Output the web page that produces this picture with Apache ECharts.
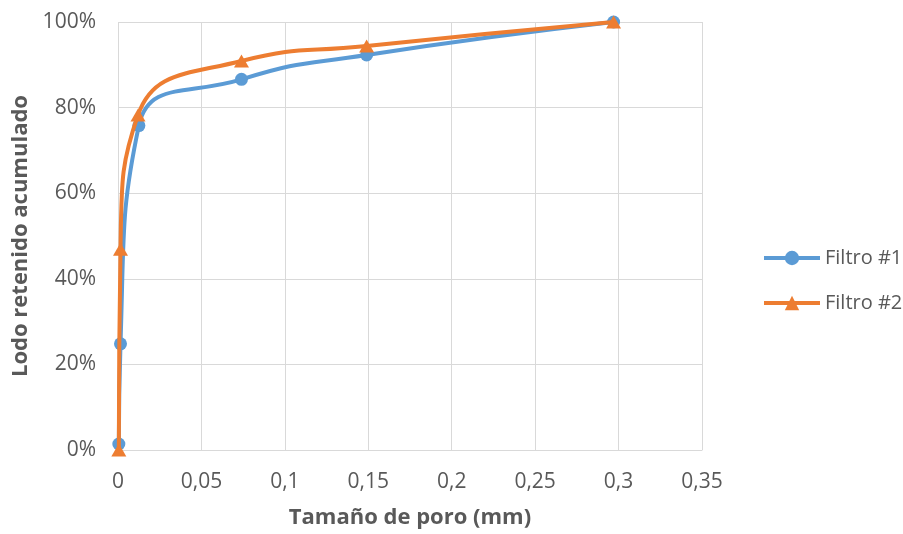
<!DOCTYPE html>
<html>
<head>
<meta charset="utf-8">
<script src="https://cdn.jsdelivr.net/npm/echarts@6/dist/echarts.min.js"></script>
<style>
  html, body { margin: 0; padding: 0; background: #ffffff; }
  #chart { width: 903px; height: 534px; }
</style>
</head>
<body>
<div id="chart"></div>
<script>
// Tamaño de poro (mm) de cada punto de la curva granulométrica
const poroFiltro1 = [0.0005, 0.0015, 0.0125, 0.074, 0.149, 0.297];
const poroFiltro2 = [0.0005, 0.0015, 0.012, 0.074, 0.149, 0.297];
// Lodo retenido acumulado (%)
const retenidoFiltro1 = [1.4, 24.8, 75.8, 86.6, 92.3, 100];
const retenidoFiltro2 = [0, 46.9, 78.3, 90.9, 94.4, 100];
const seriesNames = ['Filtro #1', 'Filtro #2'];

const FONT = '"Open Sans", "Noto Sans", sans-serif';
const TEXT = '#595959';
const GRID = '#D9D9D9';

const pairs = (xs, ys) => xs.map((x, i) => [x, ys[i]]);

const chart = echarts.init(document.getElementById('chart'), null, { renderer: 'canvas' });
chart.setOption({
  animation: false,
  backgroundColor: '#ffffff',
  textStyle: { fontFamily: FONT },
  grid: { left: 118, right: 201, top: 22, bottom: 83, containLabel: false },
  legend: {
    orient: 'vertical',
    left: 762,
    top: 248,
    padding: 0,
    itemWidth: 56,
    itemHeight: 18,
    itemGap: 25,
    lineStyle: { width: 4 },
    textStyle: { fontFamily: FONT, fontSize: 20, color: TEXT },
    data: seriesNames
  },
  xAxis: {
    type: 'value',
    min: 0,
    max: 0.35,
    interval: 0.05,
    name: 'Tamaño de poro (mm)',
    nameLocation: 'middle',
    nameGap: 57,
    nameTextStyle: { fontFamily: FONT, fontSize: 22, fontWeight: 'bold', color: TEXT },
    axisLine: { show: true, lineStyle: { color: GRID, width: 1 } },
    axisTick: { show: false },
    axisLabel: {
      margin: 22,
      fontFamily: FONT,
      fontSize: 21,
      color: TEXT,
      formatter: v => String(Number(v.toFixed(2))).replace('.', ',')
    },
    splitLine: { show: true, lineStyle: { color: GRID, width: 1 } }
  },
  yAxis: {
    type: 'value',
    min: 0,
    max: 100,
    interval: 20,
    name: 'Lodo retenido acumulado',
    nameLocation: 'middle',
    nameRotate: 90,
    nameGap: 84,
    nameTextStyle: { fontFamily: FONT, fontSize: 22, fontWeight: 'bold', color: TEXT },
    axisLine: { show: false },
    axisTick: { show: false },
    axisLabel: { margin: 22, fontFamily: FONT, fontSize: 21, color: TEXT, formatter: '{value}%' },
    splitLine: { show: true, lineStyle: { color: GRID, width: 1 } }
  },
  series: [
    {
      name: seriesNames[0],
      type: 'line',
      smooth: 0.5,
      data: pairs(poroFiltro1, retenidoFiltro1),
      symbol: 'circle',
      symbolSize: 13,
      lineStyle: { color: '#5B9BD5', width: 4 },
      itemStyle: { color: '#5B9BD5' },
      z: 2
    },
    {
      name: seriesNames[1],
      type: 'line',
      smooth: 0.5,
      data: pairs(poroFiltro2, retenidoFiltro2),
      symbol: 'triangle',
      symbolSize: [15, 13],
      lineStyle: { color: '#ED7D31', width: 4 },
      itemStyle: { color: '#ED7D31' },
      z: 3
    }
  ]
});
</script>
</body>
</html>
